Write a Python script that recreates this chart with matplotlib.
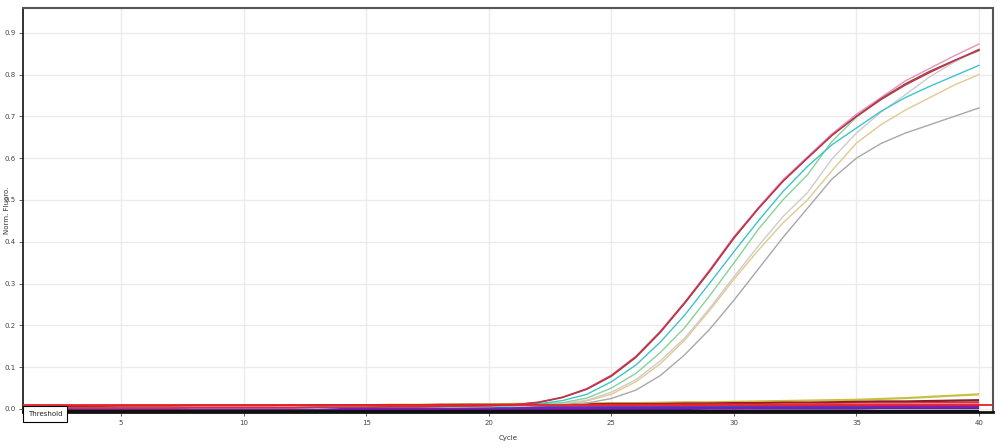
import matplotlib
matplotlib.use('Agg')
import matplotlib.pyplot as plt

cycles = list(range(1, 41))

# amplified samples (Norm. Fluoro. per cycle)
red = [0.002, 0.002, 0.002, 0.002, 0.002, 0.002, 0.002, 0.003, 0.003, 0.003,
       0.003, 0.003, 0.004, 0.004, 0.004, 0.005, 0.005, 0.006, 0.007, 0.008,
       0.010, 0.016, 0.028, 0.048, 0.080, 0.125, 0.185, 0.255, 0.330, 0.410,
       0.480, 0.545, 0.600, 0.655, 0.700, 0.740, 0.775, 0.805, 0.833, 0.860]
brown = [0.002, 0.002, 0.002, 0.002, 0.002, 0.002, 0.002, 0.003, 0.003, 0.003,
         0.003, 0.003, 0.004, 0.004, 0.004, 0.005, 0.005, 0.006, 0.007, 0.008,
         0.010, 0.015, 0.027, 0.047, 0.078, 0.123, 0.183, 0.253, 0.328, 0.408,
         0.479, 0.544, 0.600, 0.654, 0.700, 0.742, 0.778, 0.808, 0.834, 0.858]
pink = [0.002, 0.002, 0.002, 0.002, 0.002, 0.002, 0.002, 0.003, 0.003, 0.003,
        0.003, 0.003, 0.004, 0.004, 0.004, 0.005, 0.005, 0.006, 0.007, 0.008,
        0.010, 0.016, 0.028, 0.049, 0.081, 0.126, 0.186, 0.256, 0.332, 0.412,
        0.482, 0.548, 0.603, 0.658, 0.705, 0.745, 0.785, 0.815, 0.845, 0.873]
cyan = [0.002, 0.002, 0.002, 0.002, 0.002, 0.002, 0.002, 0.003, 0.003, 0.003,
        0.003, 0.003, 0.004, 0.004, 0.004, 0.004, 0.005, 0.005, 0.006, 0.007,
        0.008, 0.012, 0.020, 0.035, 0.065, 0.105, 0.160, 0.225, 0.300, 0.376,
        0.450, 0.520, 0.580, 0.632, 0.672, 0.712, 0.745, 0.772, 0.797, 0.822]
green = [0.002, 0.002, 0.002, 0.002, 0.002, 0.002, 0.002, 0.003, 0.003, 0.003,
         0.003, 0.003, 0.004, 0.004, 0.004, 0.004, 0.005, 0.005, 0.006, 0.007,
         0.008, 0.010, 0.015, 0.026, 0.050, 0.085, 0.135, 0.195, 0.270, 0.349,
         0.430, 0.500, 0.560, 0.640, 0.698, 0.740, 0.776, 0.806, 0.833, 0.857]
lightgray = [0.002, 0.002, 0.002, 0.002, 0.002, 0.002, 0.002, 0.003, 0.003, 0.003,
             0.003, 0.003, 0.003, 0.004, 0.004, 0.004, 0.005, 0.005, 0.006, 0.006,
             0.007, 0.009, 0.013, 0.021, 0.040, 0.070, 0.115, 0.170, 0.240, 0.316,
             0.390, 0.460, 0.517, 0.598, 0.660, 0.710, 0.752, 0.795, 0.830, 0.860]
tan = [0.002, 0.002, 0.002, 0.002, 0.002, 0.002, 0.002, 0.003, 0.003, 0.003,
       0.003, 0.003, 0.003, 0.004, 0.004, 0.004, 0.005, 0.005, 0.006, 0.006,
       0.007, 0.009, 0.012, 0.019, 0.035, 0.065, 0.108, 0.165, 0.235, 0.310,
       0.380, 0.445, 0.500, 0.570, 0.636, 0.680, 0.715, 0.745, 0.775, 0.800]
gray = [0.002, 0.002, 0.002, 0.002, 0.002, 0.002, 0.002, 0.003, 0.003, 0.003,
        0.003, 0.003, 0.003, 0.004, 0.004, 0.004, 0.004, 0.005, 0.005, 0.006,
        0.006, 0.008, 0.010, 0.014, 0.025, 0.045, 0.080, 0.130, 0.190, 0.260,
        0.335, 0.410, 0.480, 0.550, 0.600, 0.635, 0.660, 0.680, 0.700, 0.720]

# non-amplified samples (near baseline)
olive = [0.000, 0.001, 0.002, 0.003, 0.004, 0.005, 0.005, 0.006, 0.006, 0.007,
         0.007, 0.008, 0.008, 0.009, 0.009, 0.010, 0.010, 0.010, 0.011, 0.011,
         0.012, 0.012, 0.013, 0.013, 0.014, 0.014, 0.015, 0.016, 0.016, 0.017,
         0.018, 0.019, 0.020, 0.021, 0.022, 0.024, 0.026, 0.029, 0.032, 0.035]
darkred = [0.004, 0.005, 0.006, 0.006, 0.007, 0.007, 0.007, 0.008, 0.008, 0.008,
           0.008, 0.008, 0.009, 0.009, 0.009, 0.009, 0.009, 0.010, 0.010, 0.010,
           0.010, 0.011, 0.011, 0.011, 0.012, 0.012, 0.012, 0.013, 0.013, 0.014,
           0.014, 0.015, 0.015, 0.016, 0.017, 0.018, 0.018, 0.019, 0.020, 0.021]
flat_red = [0.002, 0.003, 0.003, 0.004, 0.004, 0.005, 0.005, 0.005, 0.006, 0.006,
            0.006, 0.006, 0.007, 0.007, 0.007, 0.007, 0.008, 0.008, 0.008, 0.008,
            0.009, 0.009, 0.009, 0.009, 0.010, 0.010, 0.010, 0.011, 0.011, 0.011,
            0.011, 0.012, 0.012, 0.012, 0.013, 0.013, 0.013, 0.014, 0.014, 0.015]
flat_pink = [0.000, 0.001, 0.002, 0.002, 0.003, 0.003, 0.003, 0.004, 0.004, 0.004,
             0.004, 0.005, 0.005, 0.005, 0.005, 0.005, 0.006, 0.006, 0.006, 0.006,
             0.007, 0.007, 0.007, 0.007, 0.008, 0.008, 0.008, 0.008, 0.009, 0.009,
             0.009, 0.010, 0.010, 0.010, 0.011, 0.011, 0.011, 0.012, 0.012, 0.012]
flat_silver = [0.001, 0.002, 0.003, 0.003, 0.004, 0.004, 0.004, 0.005, 0.005, 0.005,
               0.005, 0.006, 0.006, 0.006, 0.006, 0.007, 0.007, 0.007, 0.007, 0.008,
               0.008, 0.008, 0.009, 0.009, 0.009, 0.010, 0.010, 0.011, 0.011, 0.012,
               0.012, 0.013, 0.013, 0.014, 0.014, 0.015, 0.016, 0.016, 0.017, 0.018]
flat_blue = [-0.003, -0.002, -0.001, -0.001, 0.000, 0.000, 0.000, 0.001, 0.001, 0.001,
             0.001, 0.001, 0.002, 0.002, 0.002, 0.002, 0.002, 0.002, 0.003, 0.003,
             0.003, 0.003, 0.003, 0.003, 0.004, 0.004, 0.004, 0.004, 0.004, 0.005,
             0.005, 0.005, 0.005, 0.006, 0.006, 0.006, 0.006, 0.007, 0.007, 0.007]
flat_purple = [-0.004, -0.003, -0.003, -0.002, -0.002, -0.002, -0.001, -0.001, -0.001, -0.001,
               -0.001, 0.000, 0.000, 0.000, 0.000, 0.000, 0.000, 0.001, 0.001, 0.001,
               0.001, 0.001, 0.001, 0.001, 0.002, 0.002, 0.002, 0.002, 0.002, 0.002,
               0.003, 0.003, 0.003, 0.003, 0.003, 0.004, 0.004, 0.004, 0.004, 0.005]
flat_violet = [-0.005, -0.004, -0.004, -0.003, -0.003, -0.003, -0.003, -0.002, -0.002, -0.002,
               -0.002, -0.002, -0.002, -0.001, -0.001, -0.001, -0.001, -0.001, -0.001, -0.001,
               0.000, 0.000, 0.000, 0.000, 0.000, 0.000, 0.000, 0.000, 0.001, 0.001,
               0.001, 0.001, 0.001, 0.001, 0.001, 0.002, 0.002, 0.002, 0.002, 0.002]
flat_black = [-0.006, -0.006, -0.006, -0.006, -0.006, -0.006, -0.006, -0.006, -0.006, -0.006,
              -0.006, -0.006, -0.006, -0.006, -0.006, -0.006, -0.006, -0.006, -0.006, -0.006,
              -0.006, -0.006, -0.006, -0.006, -0.006, -0.006, -0.006, -0.006, -0.006, -0.006,
              -0.006, -0.006, -0.006, -0.006, -0.006, -0.006, -0.006, -0.006, -0.006, -0.006]
flat_magenta = [-0.002, -0.001, 0.000, 0.000, 0.001, 0.001, 0.001, 0.001, 0.002, 0.002,
                0.002, 0.002, 0.002, 0.002, 0.003, 0.003, 0.003, 0.003, 0.003, 0.003,
                0.003, 0.004, 0.004, 0.004, 0.004, 0.004, 0.004, 0.005, 0.005, 0.005,
                0.005, 0.005, 0.006, 0.006, 0.006, 0.006, 0.007, 0.007, 0.007, 0.008]

threshold = 0.009

flat_series = [
    (olive, '#c8c040'), (flat_silver, '#b0b0b0'), (darkred, '#8a1c2c'),
    (flat_red, '#e0202a'), (flat_pink, '#f08090'), (flat_magenta, '#c02080'),
    (flat_blue, '#3050d0'), (flat_violet, '#5020a0'), (flat_purple, '#7a1fb0'),
    (flat_black, '#101010'),
]
amp_series = [
    (gray, '#a8a8a8'), (tan, '#e2c98e'), (lightgray, '#cccccc'),
    (green, '#86d39a'), (cyan, '#3fc3c9'), (pink, '#e493c4'),
    (brown, '#8c4a3c'), (red, '#c8324e'),
]

fig = plt.figure(figsize=(10, 4.46), dpi=100)
ax = fig.add_axes([0.023, 0.076, 0.970, 0.906])

for vals, col in flat_series:
    ax.plot(cycles, vals, color=col, lw=1.6, solid_capstyle='butt')
for vals, col in amp_series:
    ax.plot(cycles, vals, color=col, lw=1.0)

ax.axhline(threshold, color='#e8202a', lw=1.3, zorder=5)
ax.text(1.2, threshold - 0.013, 'Threshold', fontsize=5, va='top', ha='left',
        color='#222222', zorder=6, clip_on=False,
        bbox=dict(boxstyle='square,pad=0.7', fc='white', ec='black', lw=0.8))

ax.set_xlim(1, 40.57)
ax.set_ylim(-0.0075, 0.959)
ax.set_xticks([5, 10, 15, 20, 25, 30, 35, 40])
ax.set_yticks([0.0, 0.1, 0.2, 0.3, 0.4, 0.5, 0.6, 0.7, 0.8, 0.9])
ax.set_yticklabels(['0.0', '0.1', '0.2', '0.3', '0.4', '0.5', '0.6', '0.7', '0.8', '0.9'])
ax.tick_params(labelsize=5, length=3, width=0.6, colors='#444444', pad=2)
ax.tick_params(axis='x', pad=3)
ax.grid(True, color='#ebebeb', lw=1)
ax.set_axisbelow(True)

for side in ['top', 'right']:
    ax.spines[side].set_color('#555555')
    ax.spines[side].set_linewidth(1.5)
ax.spines['left'].set_color('#222222')
ax.spines['left'].set_linewidth(1.3)
ax.spines['bottom'].set_color('#111111')
ax.spines['bottom'].set_linewidth(2)

ax.set_xlabel('Cycle', fontsize=5, color='#333333', labelpad=6)
ax.set_ylabel('Norm. Fluoro.', fontsize=5, color='#333333')
ax.yaxis.set_label_coords(-0.0135, 0.5)

fig.savefig('out.png', dpi=100, facecolor='white')
